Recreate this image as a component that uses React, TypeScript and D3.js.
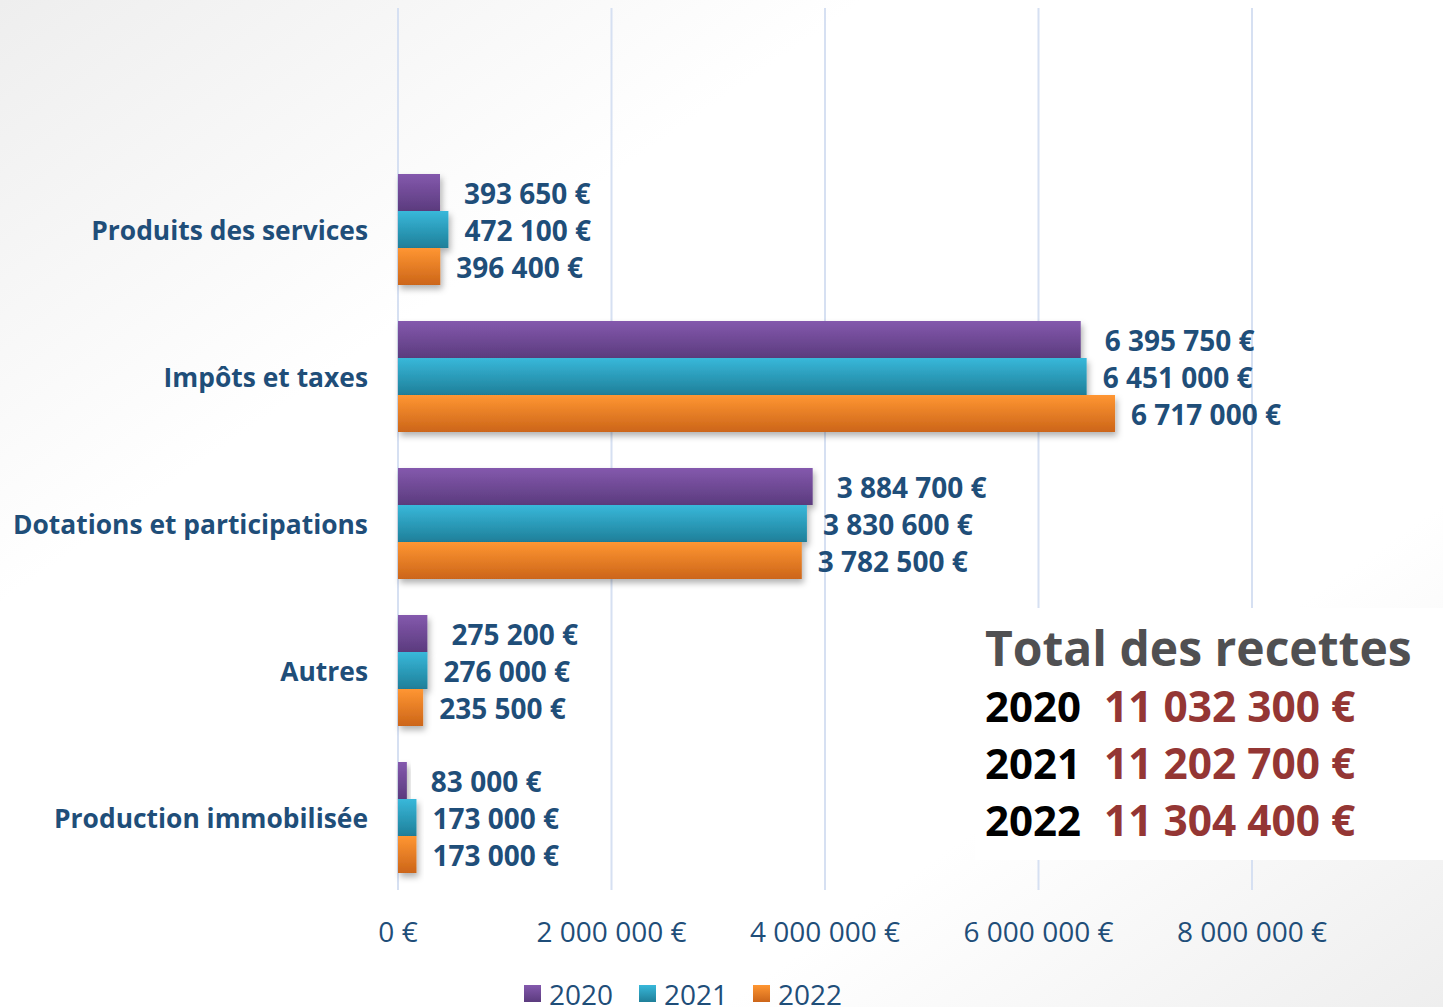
import { useEffect, useRef } from 'react'
import * as d3 from 'd3'

const categories = ['Produits des services', 'Impôts et taxes', 'Dotations et participations', 'Autres', 'Production immobilisée']
const years = ['2020', '2021', '2022']
const values2020 = [393650, 6395750, 3884700, 275200, 83000]
const values2021 = [472100, 6451000, 3830600, 276000, 173000]
const values2022 = [396400, 6717000, 3782500, 235500, 173000]
const xTicks = [0, 2000000, 4000000, 6000000, 8000000]
const totals = ['11 032 300 €', '11 202 700 €', '11 304 400 €']

const COLORS = [
  ['#8459ad', '#5b3b7e'],
  ['#38b8da', '#1f7f99'],
  ['#ff9632', '#cc6519'],
]
const BLUE = '#1f4e79'
const FONT = '"Open Sans", "Noto Sans", sans-serif'

const fmt = (v: number) => d3.format(',')(v).replace(/,/g, ' ') + ' €'

export default function App() {
  const svgRef = useRef<SVGSVGElement>(null)

  useEffect(() => {
    if (!svgRef.current) return
    const svg = d3.select(svgRef.current)
    svg.selectAll('*').remove()

    const W = 1443, H = 1007
    svg.attr('width', W).attr('height', H)

    const defs = svg.append('defs')
    const bg = defs.append('linearGradient').attr('id', 'bg')
      .attr('x1', '0').attr('y1', '0').attr('x2', '1').attr('y2', '1')
    bg.append('stop').attr('offset', '0').attr('stop-color', '#eeeeee')
    bg.append('stop').attr('offset', '0.3').attr('stop-color', '#ffffff')
    bg.append('stop').attr('offset', '0.75').attr('stop-color', '#ffffff')
    bg.append('stop').attr('offset', '1').attr('stop-color', '#eeeeee')

    COLORS.forEach((c, i) => {
      const g = defs.append('linearGradient').attr('id', `bar${i}`)
        .attr('x1', '0').attr('y1', '0').attr('x2', '0').attr('y2', '1')
      g.append('stop').attr('offset', '0').attr('stop-color', c[0])
      g.append('stop').attr('offset', '1').attr('stop-color', c[1])
    })
    const sh = defs.append('filter').attr('id', 'shadow')
      .attr('x', '-20%').attr('y', '-20%').attr('width', '160%').attr('height', '160%')
    sh.append('feDropShadow').attr('dx', 2).attr('dy', 4).attr('stdDeviation', 3)
      .attr('flood-color', '#000').attr('flood-opacity', 0.3)

    svg.append('rect').attr('width', W).attr('height', H).attr('fill', 'url(#bg)')

    const x = d3.scaleLinear().domain([0, 8000000]).range([398, 1252])
    const p = 36 / 147
    const y = d3.scaleBand().domain(categories).range([156, 891])
      .paddingInner(p).paddingOuter(p / 2)
    const ySub = d3.scaleBand().domain(years).range([0, y.bandwidth()])

    // Gridlines
    svg.append('g').selectAll('line').data(xTicks).join('line')
      .attr('x1', d => x(d)).attr('x2', d => x(d))
      .attr('y1', 8).attr('y2', 890)
      .attr('stroke', '#d6e0f2').attr('stroke-width', 2)

    // Tick labels
    svg.append('g').selectAll('text').data(xTicks).join('text')
      .attr('x', d => x(d)).attr('y', 942)
      .attr('text-anchor', 'middle')
      .attr('font-family', FONT).attr('font-size', 28).attr('fill', BLUE)
      .text(d => fmt(d))

    // Category labels
    svg.append('g').selectAll('text').data(categories).join('text')
      .attr('x', 368).attr('y', d => (y(d) as number) + y.bandwidth() / 2)
      .attr('dominant-baseline', 'central').attr('text-anchor', 'end')
      .attr('font-family', FONT).attr('font-weight', 'bold').attr('font-size', 26.4)
      .attr('fill', BLUE)
      .text(d => d)

    const series = [values2020, values2021, values2022]
    const labelOffsets = [24, 16, 16]
    series.forEach((vals, si) => {
      const g = svg.append('g')
      g.selectAll('rect').data(vals).join('rect')
        .attr('x', x(0))
        .attr('y', (_, i) => (y(categories[i]) as number) + (ySub(years[si]) as number))
        .attr('width', d => x(d) - x(0))
        .attr('height', ySub.bandwidth())
        .attr('fill', `url(#bar${si})`)
        .attr('filter', 'url(#shadow)')
    })
    series.forEach((vals, si) => {
      svg.append('g').selectAll('text').data(vals).join('text')
        .attr('x', d => x(d) + labelOffsets[si])
        .attr('y', (_, i) => (y(categories[i]) as number) + (ySub(years[si]) as number) + ySub.bandwidth() / 2)
        .attr('dominant-baseline', 'central')
        .attr('font-family', FONT).attr('font-weight', 'bold').attr('font-size', 28)
        .attr('fill', BLUE)
        .text(d => fmt(d))
    })

    // Legend
    const leg = svg.append('g')
    const legX = [524, 639, 753]
    years.forEach((yr, i) => {
      leg.append('rect').attr('x', legX[i]).attr('y', 985).attr('width', 17).attr('height', 17)
        .attr('fill', `url(#bar${i})`)
      leg.append('text').attr('x', legX[i] + 25).attr('y', 1005)
        .attr('font-family', FONT).attr('font-size', 28).attr('fill', BLUE)
        .text(yr)
    })

    // Totals box
    const box = svg.append('g')
    box.append('rect').attr('x', 975).attr('y', 608).attr('width', W - 975).attr('height', 252)
      .attr('fill', '#ffffff')
    box.append('text').attr('x', 985).attr('y', 666)
      .attr('font-family', FONT).attr('font-weight', 'bold').attr('font-size', 48)
      .attr('fill', '#505052').text('Total des recettes')
    years.forEach((yr, i) => {
      const ty = 722 + i * 57
      box.append('text').attr('x', 985).attr('y', ty)
        .attr('font-family', FONT).attr('font-weight', 'bold').attr('font-size', 42)
        .attr('fill', '#000').text(yr)
      box.append('text').attr('x', 1104).attr('y', ty)
        .attr('font-family', FONT).attr('font-weight', 'bold').attr('font-size', 42.4)
        .attr('fill', '#943634').text(totals[i])
    })
  }, [])

  return (
    <div>
      <svg ref={svgRef} style={{ position: 'absolute', left: 0, top: 0, display: 'block' }} />
    </div>
  )
}
